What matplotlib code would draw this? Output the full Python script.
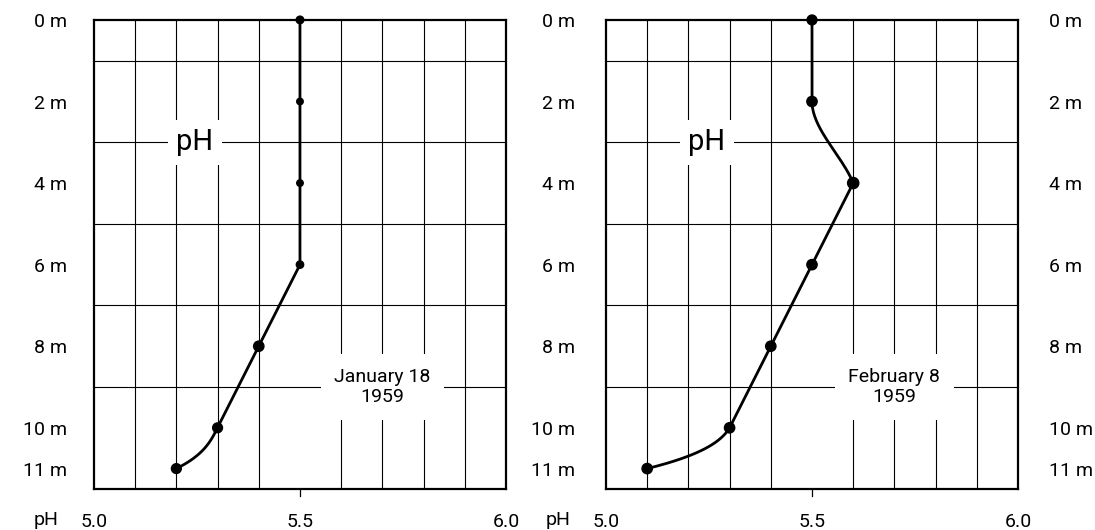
import matplotlib.pyplot as plt
import numpy as np

depths = [0, 2, 4, 6, 8, 10, 11]
ph_jan = [5.5, 5.5, 5.5, 5.5, 5.4, 5.3, 5.2]
ph_feb = [5.5, 5.5, 5.6, 5.5, 5.4, 5.3, 5.1]
depth_labels = ['0 m', '2 m', '4 m', '6 m', '8 m', '10 m', '11 m']
ph_ticks = [5.0, 5.5, 6.0]
ph_tick_labels = ['5.0', '5.5', '6.0']
dates = ['January 18\n1959', 'February 8\n1959']

# end tangents (dpH per m) where the hand drawn line bends, keyed by segment start
jan_bends = {5: (-0.05, -0.2)}
feb_bends = {1: (0.0, 0.04), 5: (-0.06, -0.4)}


def curve(d, x, bends):
    # cubic hermite pieces, straight where no bend is given
    t = np.linspace(0, 1, 40)
    h00 = 2 * t**3 - 3 * t**2 + 1
    h10 = t**3 - 2 * t**2 + t
    h01 = -2 * t**3 + 3 * t**2
    h11 = t**3 - t**2
    xs, ds = [], []
    for i in range(len(d) - 1):
        h = d[i + 1] - d[i]
        sec = (x[i + 1] - x[i]) / h
        m0, m1 = bends.get(i, (sec, sec))
        xs.append(h00 * x[i] + h10 * h * m0 + h01 * x[i + 1] + h11 * h * m1)
        ds.append(d[i] + t * h)
    return np.concatenate(xs), np.concatenate(ds)


plt.rcParams['font.family'] = ['Roboto', 'DejaVu Sans']
fig = plt.figure(figsize=(10.95, 5.3), dpi=100, facecolor='white')
ax1 = fig.add_axes([0.0858, 0.0774, 0.3763, 0.885])
ax2 = fig.add_axes([0.5534, 0.0774, 0.3763, 0.885])

panels = [(ax1, ph_jan, jan_bends, dates[0]), (ax2, ph_feb, feb_bends, dates[1])]
for ax, ph, bends, date in panels:
    ax.set_xlim(5.0, 6.0)
    ax.set_ylim(11.5, 0)
    ax.set_xticks(np.arange(5.0, 6.001, 0.1), minor=True)
    ax.set_yticks(range(0, 12), minor=True)
    ax.grid(True, which='minor', color='black', lw=0.8)
    ax.set_axisbelow(True)
    ax.set_xticks(ph_ticks)
    ax.set_xticklabels(ph_tick_labels, fontsize=14)
    ax.set_yticks(depths)
    ax.set_yticklabels(depth_labels, fontsize=14)
    ax.tick_params(which='both', length=0)
    ax.tick_params(axis='x', which='major', pad=17)
    for s in ax.spines.values():
        s.set_linewidth(1.6)
    # short tick below the axis at 5.5
    ax.plot([5.5, 5.5], [11.5, 11.68], color='black', lw=0.9, clip_on=False)

    xs, ds = curve(depths, ph, bends)
    ax.plot(xs, ds, color='black', lw=2.0, zorder=4)
    ax.text(5.245, 3.0, 'pH', fontsize=21, ha='center', va='center', zorder=3,
            bbox=dict(boxstyle='square,pad=0.3', fc='white', ec='none'))
    ax.text(5.70, 9.0, date, fontsize=14, ha='center', va='center', zorder=3,
            linespacing=1.2,
            bbox=dict(boxstyle='square,pad=0.7', fc='white', ec='none'))

ax1.tick_params(axis='y', which='major', pad=19)
ax1.scatter(ph_jan, depths, s=[30, 22, 22, 28, 55, 50, 50], color='black',
            zorder=5, clip_on=False)
ax2.scatter(ph_feb, depths, s=[50, 55, 65, 55, 55, 55, 55], color='black',
            zorder=5, clip_on=False)
ax2.tick_params(axis='y', labelright=True)
ax2.tick_params(axis='y', which='major', pad=22)

fig.text(0.042, 0.0189, 'pH', fontsize=14, ha='center', va='center')
fig.text(0.510, 0.0189, 'pH', fontsize=14, ha='center', va='center')

fig.savefig('out.png', dpi=100, facecolor='white')
